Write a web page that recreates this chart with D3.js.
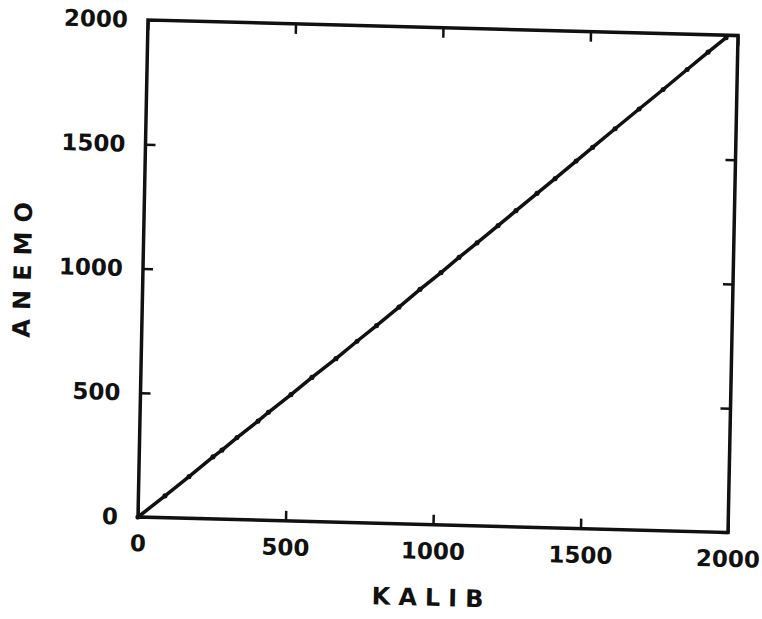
<!DOCTYPE html>
<html>
<head>
<meta charset="utf-8">
<script src="https://cdn.jsdelivr.net/npm/d3@7"></script>
<style>
  body { margin: 0; background: #fff; }
  svg { display: block; }
  .tick text { font-family: "DejaVu Sans", sans-serif; font-weight: bold; font-size: 23px; fill: #111; }
  .title { font-family: "DejaVu Sans", sans-serif; font-weight: bold; font-size: 24px; fill: #111; }
</style>
</head>
<body>
<svg id="chart" width="762" height="619"></svg>
<script>
// Data (KALIB vs ANEMO)
const kalib = [0, 90, 170, 250, 280, 330, 400, 435, 510, 580, 660, 730, 795, 870, 940,
               1010, 1070, 1130, 1200, 1260, 1330, 1390, 1460, 1515, 1590, 1670, 1750, 1830, 1900, 1960];
const anemo = [0, 88, 168, 250, 278, 330, 398, 435, 508, 580, 658, 730, 795, 872, 945,
               1015, 1078, 1138, 1210, 1272, 1344, 1405, 1478, 1535, 1612, 1694, 1775, 1858, 1930, 1990];
const tickValues = [0, 500, 1000, 1500, 2000];
const xLabel = "KALIB";
const yLabel = "ANEMO";

const points = kalib.map((k, i) => ({ x: k, y: anemo[i] }));

// plot area size, local coords
const width = 590;
const height = 497;

const svg = d3.select("#chart");

// the scan is slightly skewed, so the whole plot sits in a sheared group
const g = svg.append("g")
    .attr("transform", "matrix(1,0.0263,-0.0201,1,148,20)");

const xScale = d3.scaleLinear().domain([0, 2000]).range([0, width]);
const yScale = d3.scaleLinear().domain([0, 2000]).range([height, 0]);
const fmt = d3.format("d");

// axes with inward ticks
g.append("g")
    .attr("transform", "translate(0," + height + ")")
    .call(d3.axisBottom(xScale).tickValues(tickValues).tickSize(-10).tickPadding(18).tickFormat(fmt));
g.append("g")
    .call(d3.axisLeft(yScale).tickValues(tickValues).tickSize(-10).tickPadding(20).tickFormat(fmt));
g.append("g")
    .call(d3.axisTop(xScale).tickValues(tickValues).tickSize(-10).tickFormat(""));
g.append("g")
    .attr("transform", "translate(" + width + ",0)")
    .call(d3.axisRight(yScale).tickValues(tickValues).tickSize(-10).tickFormat(""));

g.selectAll(".domain").remove();
g.selectAll(".tick line").attr("stroke", "#111").attr("stroke-width", 2.5);

// frame
g.append("rect")
    .attr("x", 0)
    .attr("y", 0)
    .attr("width", width)
    .attr("height", height)
    .attr("fill", "none")
    .attr("stroke", "#111")
    .attr("stroke-width", 3.5);

// data line with small markers
const line = d3.line()
    .x(d => xScale(d.x))
    .y(d => yScale(d.y));

g.append("path")
    .datum(points)
    .attr("d", line)
    .attr("fill", "none")
    .attr("stroke", "#111")
    .attr("stroke-width", 3.5)
    .attr("stroke-linejoin", "round");

g.selectAll("circle")
    .data(points)
    .enter()
    .append("circle")
    .attr("cx", d => xScale(d.x))
    .attr("cy", d => yScale(d.y))
    .attr("r", 2.6)
    .attr("fill", "#111");

// axis titles
g.append("text")
    .attr("class", "title")
    .attr("x", width / 2)
    .attr("y", height + 81)
    .attr("text-anchor", "middle")
    .attr("letter-spacing", "8px")
    .text(xLabel);

g.append("text")
    .attr("class", "title")
    .attr("transform", "translate(-112," + (height / 2) + ") rotate(-90)")
    .attr("text-anchor", "middle")
    .attr("letter-spacing", "9px")
    .text(yLabel);
</script>
</body>
</html>
